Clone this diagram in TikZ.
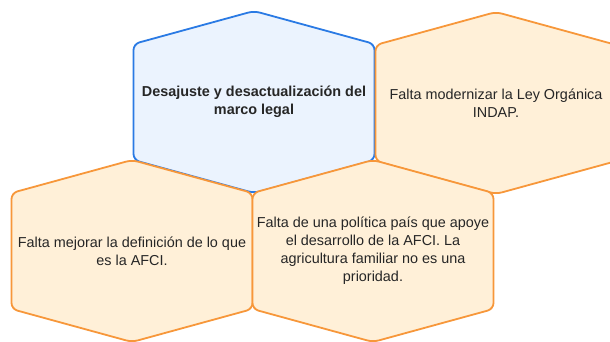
\documentclass[tikz,border=0pt]{standalone}
\usepackage{fontspec}
\setmainfont{Liberation Sans}
\definecolor{hexblueline}{HTML}{2A7AE4}
\definecolor{hexbluefill}{HTML}{EBF3FE}
\definecolor{hexorangeline}{HTML}{F7973A}
\definecolor{hexorangefill}{HTML}{FFF0D8}
\tikzset{
  hexblue/.style={draw=hexblueline,fill=hexbluefill,line width=1.8pt,rounded corners=6pt},
  hexorange/.style={draw=hexorangeline,fill=hexorangefill,line width=1.8pt,rounded corners=6pt},
  hexlabel/.style={align=center,inner sep=0pt,text=black!85,font=\fontsize{14.4}{18}\selectfont},
}
% hexagon cell: #1 style, #2 name, #3 centre, #4 text
\newcommand{\hexcell}[4]{%
  \draw[#1] (#3) ++(0,-91) -- ++(120.5,33) -- ++(0,116) -- ++(-120.5,33)
    -- ++(-120.5,-33) -- ++(0,-116) -- cycle;
  \node[hexlabel] (#2) at (#3) {#4};
}

\begin{document}
\begin{tikzpicture}[x=1pt,y=-1pt]
  \useasboundingbox (0,0) rectangle (610,341);

% top row
  \hexcell{hexblue}{desajuste}{254,102}{\bfseries Desajuste y desactualización del\\\bfseries marco legal}
  \hexcell{hexorange}{ley}{496,103}{Falta modernizar la Ley Orgánica\\INDAP.}

% bottom row
  \hexcell{hexorange}{definicion}{132,251}{Falta mejorar la definición de lo que\\es la AFCI.}
  \hexcell{hexorange}{politica}{373,251}{Falta de una política país que apoye\\el desarrollo de la AFCI. La\\agricultura familiar no es una\\prioridad.}

\end{tikzpicture}
\end{document}
